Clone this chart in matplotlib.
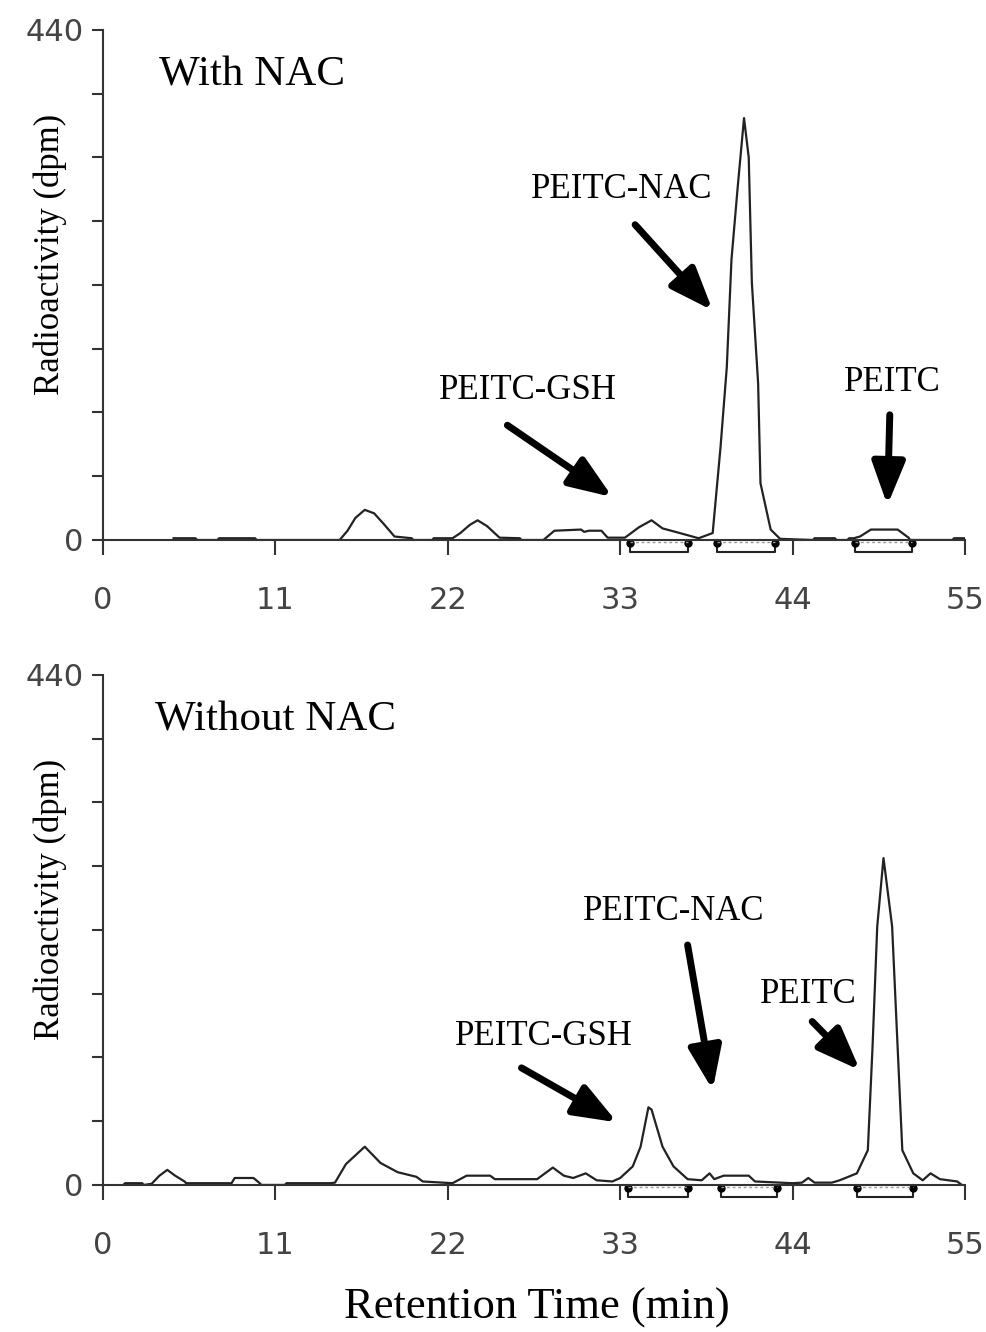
import matplotlib
matplotlib.use("Agg")
import matplotlib.pyplot as plt
import numpy as np

# chromatogram with NAC (time in min, radioactivity in dpm)
with_t = [4.5, 5.9, 6.0, 7.3, 7.4, 9.7, 9.8, 15.1, 15.6, 16.1, 16.7, 17.3, 17.9, 18.6,
          19.7, 19.8, 21.0, 21.1, 22.3, 22.8, 23.4, 23.9, 24.5, 25.3, 26.6, 26.7, 28.1,
          28.8, 30.5, 30.7, 31.0, 31.8, 32.2, 33.3, 34.2, 35.0, 35.7, 36.8, 37.6, 38.0,
          38.9, 39.4, 39.8, 40.1, 40.5, 40.9, 41.2, 41.4, 41.8, 41.95, 42.6, 43.2, 45.3,
          45.4, 46.7, 46.8, 47.5, 47.6, 47.9, 48.3, 49.0, 50.7, 51.4, 51.5, 54.2, 54.3, 55.0]
with_v = [1.5, 1.5, 0, 0, 1.5, 1.5, 0, 0, 8, 19, 26, 23, 14, 3,
          1.5, 0, 0, 1.5, 1.5, 6, 13, 17, 12, 2, 1.5, 0, 0,
          8, 9, 7, 8, 8, 2, 2, 11, 17, 10, 6, 3, 1.5,
          6, 80, 149, 242, 305, 364, 330, 222, 135, 49, 9, 1, 0,
          1.5, 1.5, 0, 0, 1.5, 1.5, 3, 9, 9, 2, 0, 0, 1.5, 1.5]

# chromatogram without NAC
wo_t = [1.3, 1.4, 2.5, 2.6, 3.1, 3.6, 4.1, 4.6, 5.2, 5.3, 8.2, 8.4, 9.6, 10.0, 10.1,
        11.6, 11.7, 14.5, 14.8, 15.5, 16.7, 17.7, 18.8, 20.0, 20.4, 22.3, 23.2, 24.7,
        25.0, 27.7, 28.7, 29.4, 30.0, 30.8, 31.5, 32.5, 33.0, 33.8, 34.3, 34.8, 35.0,
        35.7, 36.4, 37.3, 38.2, 38.7, 39.0, 39.6, 41.2, 41.6, 44.0, 44.6, 45.0, 45.4,
        46.5, 47.0, 48.1, 48.8, 49.1, 49.4, 49.8, 50.35, 50.7, 51.0, 51.7, 52.3, 52.8,
        53.4, 54.5, 54.8]
wo_v = [0, 1.5, 1.5, 0, 1, 8, 13, 8, 3, 1.5, 1.5, 6, 6, 1.5, 0,
        0, 1.5, 1.5, 2, 18, 33, 19, 11, 7, 3, 1.5, 8, 8,
        5, 5, 15, 8, 6, 10, 4, 3, 6, 16, 33, 67, 65,
        33, 16, 5, 4, 10, 5, 8, 8, 3, 1.5, 2, 6, 2,
        2, 4, 10, 30, 119, 223, 282, 223, 119, 30, 10, 4, 10,
        5, 3, 0]

# integration windows (min)
with_windows = [(33.6, 37.3), (39.2, 42.9), (48.0, 51.6)]
wo_windows = [(33.5, 37.3), (39.4, 43.0), (48.1, 51.7)]

x_ticks = [0, 11, 22, 33, 44, 55]
y_ticks = np.arange(0, 441, 55)

panels = [
    dict(t=with_t, v=with_v, windows=with_windows, title="With NAC", title_x=3.6,
         notes=[("PEITC-NAC", (33.1, 302), (33.95, 272), (38.9, 198)),
                ("PEITC-GSH", (27.1, 129), (25.8, 99), (32.5, 37)),
                ("PEITC", (50.35, 136), (50.2, 108), (50.05, 30))]),
    dict(t=wo_t, v=wo_v, windows=wo_windows, title="Without NAC", title_x=3.3,
         notes=[("PEITC-NAC", (36.4, 236), (37.3, 207), (38.9, 82)),
                ("PEITC-GSH", (28.1, 128), (26.7, 101), (32.8, 54)),
                ("PEITC", (45.0, 164), (45.25, 141), (48.3, 99))]),
]

serif = ["Liberation Serif", "DejaVu Serif"]
fig = plt.figure(figsize=(9.86, 13.32), dpi=100)
boxes = [[0.1045, 0.5946, 0.8742, 0.3829], [0.1045, 0.1104, 0.8742, 0.3829]]

for box, p in zip(boxes, panels):
    ax = fig.add_axes(box)
    ax.plot(p["t"], p["v"], color="#222222", lw=1.6, solid_joinstyle="round")

    for a, b in p["windows"]:
        ax.plot([a, a, b, b], [0, -10, -10, 0], color="#222222", lw=1.5,
                clip_on=False, solid_joinstyle="round")
        ax.plot([a, b], [-3, -3], ls="none", marker="o", ms=5, color="black",
                clip_on=False)
        ax.plot([a, b], [-2, -2], color="#999999", lw=1, ls=(0, (2, 2)), clip_on=False)

    ax.set_xlim(0, 55)
    ax.set_ylim(0, 440)
    ax.spines["top"].set_visible(False)
    ax.spines["right"].set_visible(False)
    ax.spines["left"].set_color("#333333")
    ax.spines["bottom"].set_color("#333333")
    ax.spines["left"].set_linewidth(1.5)
    ax.spines["bottom"].set_linewidth(1.5)

    ax.set_xticks(x_ticks)
    ax.set_xticklabels([str(x) for x in x_ticks])
    ax.set_yticks(y_ticks)
    ax.set_yticklabels(["440" if y == 440 else ("0" if y == 0 else "") for y in y_ticks])
    ax.tick_params(axis="x", direction="out", length=11, width=1.5, pad=22,
                   labelsize=22, labelcolor="#444444", color="#333333")
    ax.tick_params(axis="y", direction="out", length=8, width=1.5, pad=6,
                   labelsize=22, labelcolor="#444444", color="#333333")
    ax.set_ylabel("Radioactivity (dpm)", family=serif, fontsize=25)
    ax.yaxis.set_label_coords(-0.042, 0.56)

    ax.text(p["title_x"], 401, p["title"], family=serif, fontsize=31,
            ha="left", va="center")
    for label, txt_xy, tail, tip in p["notes"]:
        ax.text(txt_xy[0], txt_xy[1], label, family=serif, fontsize=25,
                ha="center", va="center")
        ax.annotate("", xy=tip, xytext=tail,
                    arrowprops=dict(arrowstyle="-|>,head_length=1.3,head_width=0.5",
                                    lw=5, color="black", mutation_scale=20,
                                    shrinkA=0, shrinkB=0))

fig.text(0.545, 0.003, "Retention Time (min)", family=serif, fontsize=32,
         ha="center", va="bottom")

plt.savefig("out.png", dpi=100)
